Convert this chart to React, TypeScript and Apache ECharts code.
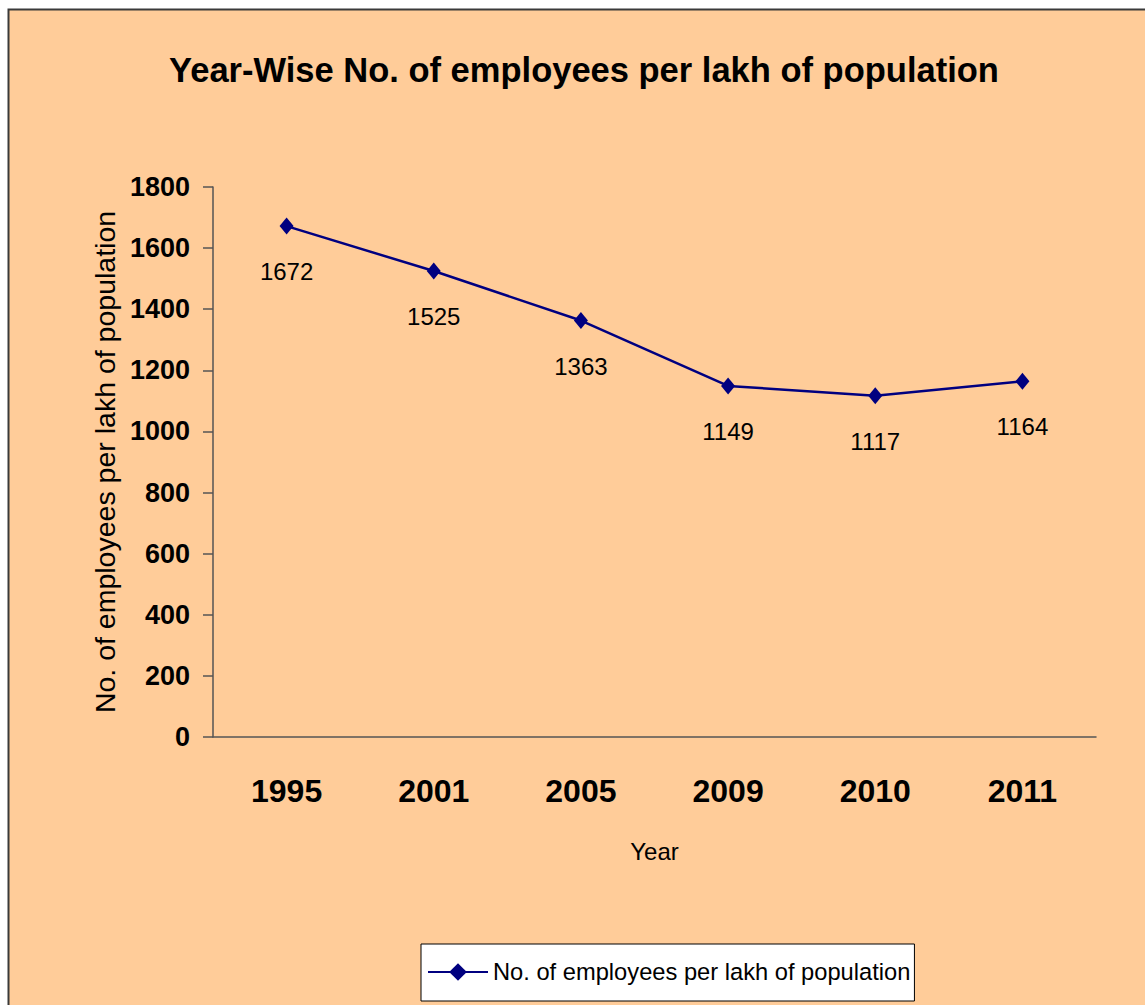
import React, { useEffect, useRef } from "react";
import * as echarts from "echarts";

const years = ["1995", "2001", "2005", "2009", "2010", "2011"];
const employeesPerLakh = [1672, 1525, 1363, 1149, 1117, 1164];
const seriesName = "No. of employees per lakh of population";
const titleText = "Year-Wise No. of employees per lakh of population";
const yAxisName = "No. of employees per lakh of population";
const xAxisName = "Year";

const FONT = "'Liberation Sans', Arial, sans-serif";

export default function App() {
  const ref = useRef<HTMLDivElement>(null);
  useEffect(() => {
    if (!ref.current) return;
    const chart = echarts.init(ref.current, undefined, { renderer: "svg" });
    chart.setOption({
      animation: false,
      backgroundColor: "#ffffff",
      graphic: [
        {
          type: "rect",
          z: -10,
          silent: true,
          shape: { x: 8.5, y: 9.5, width: 1200, height: 1100 },
          style: { fill: "#FFCC99", stroke: "#3a3a3a", lineWidth: 2 },
        },
      ],
      title: {
        text: titleText,
        left: 579,
        top: 47,
        textAlign: "center",
        textStyle: { fontFamily: FONT, fontSize: 34.5, fontWeight: "bold", color: "#000" },
      },
      legend: {
        left: 421,
        top: 944,
        backgroundColor: "#ffffff",
        borderColor: "#000",
        borderWidth: 1,
        padding: [16, 4, 17, 6],
        itemWidth: 60,
        itemHeight: 22,
        itemGap: 6,
        textStyle: { fontFamily: FONT, fontSize: 23.7, color: "#000" },
        data: [seriesName],
      },
      grid: { left: 213, top: 187, width: 883, height: 550, containLabel: false },
      xAxis: {
        type: "category",
        data: years,
        boundaryGap: true,
        name: xAxisName,
        nameLocation: "middle",
        nameGap: 102,
        nameTextStyle: { fontFamily: FONT, fontSize: 24, color: "#000" },
        axisLine: { lineStyle: { color: "#555", width: 1.5 } },
        axisTick: { length: 10, lineStyle: { color: "#555", width: 1.5 } },
        axisLabel: { fontFamily: FONT, fontSize: 32, fontWeight: "bold", color: "#000", margin: 38 },
      },
      yAxis: {
        type: "value",
        min: 0,
        max: 1800,
        interval: 200,
        name: yAxisName,
        nameLocation: "middle",
        nameGap: 84,
        nameTextStyle: { fontFamily: FONT, fontSize: 28.5, color: "#000" },
        splitLine: { show: false },
        axisLine: { show: true, lineStyle: { color: "#555", width: 1.5 } },
        axisTick: { show: true, length: 10, lineStyle: { color: "#555", width: 1.5 } },
        axisLabel: {
          fontFamily: FONT,
          fontSize: 27,
          fontWeight: "bold",
          color: "#000",
          margin: 23,
          formatter: (v: number) => String(v),
        },
      },
      series: [
        {
          name: seriesName,
          type: "line",
          data: employeesPerLakh,
          symbol: "diamond",
          symbolSize: [14, 17],
          lineStyle: { color: "#000080", width: 2.5 },
          itemStyle: { color: "#000080" },
          label: {
            show: true,
            position: "bottom",
            distance: 25,
            fontFamily: FONT,
            fontSize: 24,
            color: "#000",
          },
        },
      ],
    });
    return () => chart.dispose();
  }, []);
  return <div ref={ref} style={{ position: "fixed", left: 0, top: 0, width: 1145, height: 1005 }} />;
}
